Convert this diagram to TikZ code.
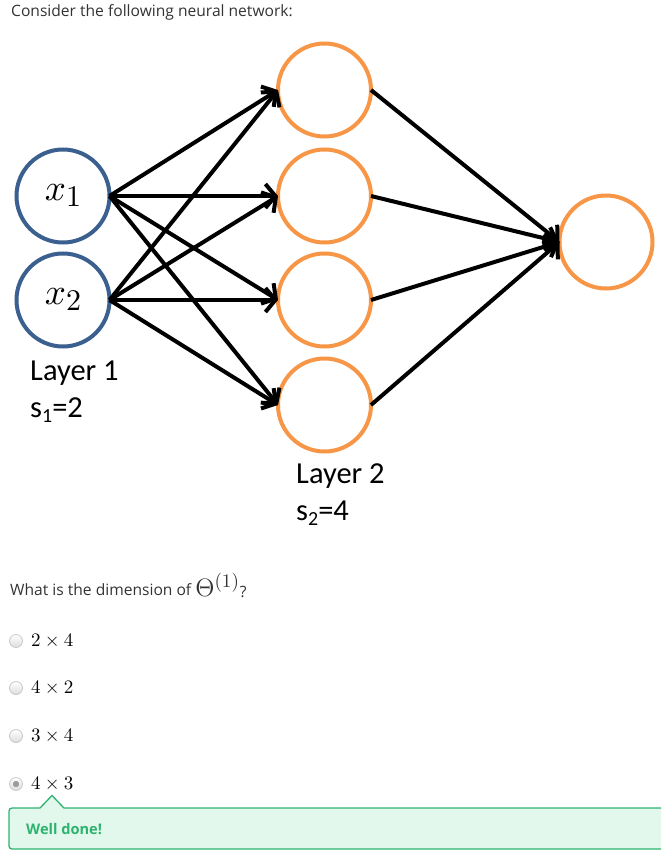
\documentclass[tikz,border=0pt]{standalone}
\usepackage{graphicx}
\usepackage{fontspec}
\newfontfamily\uifont{Open Sans}
\newfontfamily\slidefont{Carlito}
\usetikzlibrary{arrows.meta}
\definecolor{inblue}{HTML}{3B6090}
\definecolor{hidorange}{HTML}{F79646}
\definecolor{uigray}{HTML}{333333}
\definecolor{okgreen}{HTML}{2DB36F}
\definecolor{okfill}{HTML}{E2F8EC}
\definecolor{radioedge}{HTML}{C8C8C8}
\definecolor{radiofill}{HTML}{EDEDED}
\definecolor{radiodot}{HTML}{9C9C9C}
\begin{document}
\begin{tikzpicture}[x=1pt,y=-1pt,
  unit/.style={circle, line width=4pt, minimum size=93pt, inner sep=0pt, outer sep=0pt},
  inunit/.style={unit, draw=inblue},
  hidunit/.style={unit, draw=hidorange},
  link/.style={line width=4pt, -{Straight Barb[length=10pt,width=24pt]}},
  layerlbl/.style={anchor=base west, inner sep=0pt, font=\slidefont\fontsize{30.5}{32}\selectfont},
  uitext/.style={anchor=base west, inner sep=0pt, text=uigray, font=\uifont\fontsize{15.6}{18}\selectfont},
  radio/.style={circle, minimum size=13pt, inner sep=0pt, draw=radioedge, line width=0.8pt, top color=white, bottom color=radiofill!85!gray},
  choice/.style={anchor=west, inner sep=0pt},
]
\useasboundingbox (0,0) rectangle (661,859);
\clip (0,0) rectangle (661,859);

% heading
\node[uitext] (head) at (11,17) {Consider the following neural network:};

% input layer
\node[inunit] (x1) at (63,196) {\scalebox{3.7}{$x$}\raisebox{-6pt}{\scalebox{3}{$1$}}};
\node[inunit] (x2) at (63,300) {\scalebox{3.7}{$x$}\raisebox{-6pt}{\scalebox{3}{$2$}}};

% hidden layer
\node[hidunit] (h1) at (324.5,90) {};
\node[hidunit] (h2) at (324.5,196) {};
\node[hidunit] (h3) at (324.5,300) {};
\node[hidunit] (h4) at (324.5,405) {};

% output unit
\node[hidunit] (out) at (606,242) {};

% connections
\foreach \s in {x1,x2}
  \foreach \t in {h1,h2,h3,h4}
    \draw[link] (\s.east) -- (\t.west);
\foreach \s in {h1,h2,h3,h4}
  \draw[link] (\s.east) -- (out.west);

% layer labels
\node[layerlbl] (l1) at (30,380) {Layer 1};
\node[layerlbl] (s1) at (30,417) {s\raisebox{-5pt}{\fontsize{20}{20}\selectfont 1}=2};
\node[layerlbl] (l2) at (296,483) {Layer 2};
\node[layerlbl] (s2) at (296,520) {s\raisebox{-5pt}{\fontsize{20}{20}\selectfont 2}=4};

% question
\node[uitext] (q) at (10,595) {What is the dimension of \raisebox{-1.5pt}{\scalebox{1.75}{$\Theta^{(1)}$}}\raisebox{-2pt}{?}};

% answer choices
\node[radio] (r1) at (16,641) {};
\node[radio] (r2) at (16,688) {};
\node[radio] (r3) at (16,736) {};
\node[radio] (r4) at (16,784) {};
\fill[radiodot] (r4) circle (3.2pt);
\node[choice] (c1) at (31,641) {\scalebox{1.9}{$2\times4$}};
\node[choice] (c2) at (31,688) {\scalebox{1.9}{$4\times2$}};
\node[choice] (c3) at (31,736) {\scalebox{1.9}{$3\times4$}};
\node[choice] (c4) at (31,784) {\scalebox{1.9}{$4\times3$}};

% feedback box with pointer
\path[draw=okgreen, fill=okfill, line width=1.3pt]
  (675,808) -- (64,808) -- (52,795.5) -- (40,808)
  [rounded corners=3pt] -- (9,808) -- (9,849) -- (675,849) [sharp corners] -- cycle;
\node[anchor=base west, inner sep=0pt, text=okgreen, font=\uifont\bfseries\fontsize{14.6}{16}\selectfont] (fb) at (26,834) {Well done!};
\end{tikzpicture}
\end{document}
